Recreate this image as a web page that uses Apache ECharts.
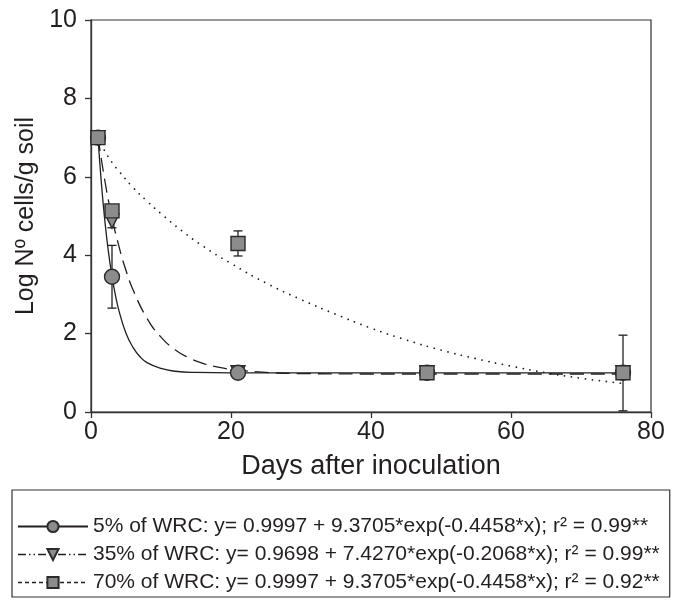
<!DOCTYPE html>
<html>
<head>
<meta charset="utf-8">
<script src="https://cdn.jsdelivr.net/npm/echarts@6/dist/echarts.min.js"></script>
<style>
  html, body { margin:0; padding:0; background:#fff; }
  #chart { width:679px; height:608px; }
</style>
</head>
<body>
<div id="chart"></div>
<script>
// measured points (days after inoculation, log cells/g soil)
const days = [1, 3, 21, 48, 76];
const wrc5 = [7.0, 3.45, 1.0, 1.0, 1.0];
const wrc35 = [7.0, 4.87, 1.0, 1.0, 1.0];
const wrc70 = [7.0, 5.13, 4.3, 1.0, 1.0];

// error bars: day, low, high
const err5Day = [3], err5Lo = [2.65], err5Hi = [4.25];
const err35Day = [3], err35Lo = [4.7], err35Hi = [5.0];
const err70Day = [21, 76], err70Lo = [3.98, 0.03], err70Hi = [4.62, 1.96];

// fitted curves
const fitX5 = [1, 1.5, 2, 2.5, 3, 3.5, 4, 5, 6, 7, 8, 10, 12, 15, 20, 30, 50, 76];
const fitY5 = [7.0, 5.8, 4.84, 4.07, 3.46, 2.97, 2.58, 2.01, 1.65, 1.41, 1.26, 1.11, 1.04, 1.01, 1.0, 1.0, 1.0, 1.0];
const fitX35 = [1, 2, 3, 4, 5, 6, 8, 10, 12, 14, 16, 18, 20, 25, 30, 40, 60, 76];
const fitY35 = [7.01, 5.88, 4.96, 4.22, 3.61, 3.12, 2.39, 1.91, 1.59, 1.38, 1.24, 1.15, 1.09, 1.01, 0.98, 0.97, 0.97, 0.97];
const fitX70 = [1, 2, 3, 4, 6, 8, 10, 13, 16, 20, 25, 30, 35, 40, 45, 50, 55, 60, 65, 70, 76];
const fitY70 = [7.0, 6.65, 6.37, 6.14, 5.73, 5.38, 5.06, 4.62, 4.23, 3.79, 3.29, 2.87, 2.49, 2.14, 1.84, 1.58, 1.36, 1.17, 1.0, 0.86, 0.73];

const xTicks = [0, 20, 40, 60, 80];
const yTicks = [0, 2, 4, 6, 8, 10];

const names = [
  '5% of WRC: y= 0.9997 + 9.3705*exp(-0.4458*x); r² = 0.99**',
  '35% of WRC: y= 0.9698 + 7.4270*exp(-0.2068*x); r² = 0.99**',
  '70% of WRC: y= 0.9997 + 9.3705*exp(-0.4458*x); r² = 0.92**'
];

const FONT = '"Liberation Sans", Arial, Helvetica, sans-serif';
const INK = '#231f20';
const FILL = '#8c8c8c';

const zip = (a, b) => a.map((v, i) => [v, b[i]]);
const errData = (d, lo, hi) => d.map((v, i) => [v, lo[i], hi[i]]);

function renderErr(params, api) {
  const x = api.value(0);
  const top = api.coord([x, api.value(2)]);
  const bot = api.coord([x, api.value(1)]);
  const w = 4.5;
  const st = { stroke: INK, lineWidth: 1.3 };
  return { type: 'group', children: [
    { type: 'line', shape: { x1: top[0], y1: top[1], x2: bot[0], y2: bot[1] }, style: st },
    { type: 'line', shape: { x1: top[0] - w, y1: top[1], x2: top[0] + w, y2: top[1] }, style: st },
    { type: 'line', shape: { x1: bot[0] - w, y1: bot[1], x2: bot[0] + w, y2: bot[1] }, style: st }
  ]};
}

const markerStyle = { color: FILL, borderColor: '#2b2b2b', borderWidth: 1.4, opacity: 1 };

function fitSeries(name, xs, ys, symbol, rotate, dash, width, cap) {
  return {
    name, type: 'line', data: zip(xs, ys),
    smooth: 0.5,
    symbol, symbolRotate: rotate, symbolSize: 13, showSymbol: false,
    itemStyle: markerStyle,
    lineStyle: { color: INK, width: width, type: dash, cap: cap || 'butt' },
    z: 2, silent: true, animation: false
  };
}

function pointSeries(ys, symbol, rotate, size, z) {
  return {
    type: 'scatter', data: zip(days, ys),
    symbol, symbolRotate: rotate, symbolSize: size,
    itemStyle: markerStyle, z, animation: false
  };
}

function errSeries(d, lo, hi) {
  return { type: 'custom', data: errData(d, lo, hi), renderItem: renderErr, z: 3, animation: false };
}

const chart = echarts.init(document.getElementById('chart'));
chart.setOption({
  backgroundColor: '#fff',
  textStyle: { fontFamily: FONT, color: INK },
  grid: { left: 91, top: 20, width: 560, height: 392, show: true, borderColor: '#333', borderWidth: 1.2, backgroundColor: 'transparent' },
  xAxis: {
    type: 'value', min: xTicks[0], max: xTicks[xTicks.length - 1], interval: 20,
    name: 'Days after inoculation', nameLocation: 'middle', nameGap: 41,
    nameTextStyle: { fontSize: 27, color: INK, fontFamily: FONT },
    axisLine: { lineStyle: { color: '#333', width: 1.3 } },
    axisTick: { show: true, length: 6, lineStyle: { color: '#333', width: 1.3 } },
    axisLabel: { fontSize: 25, color: INK, margin: 8, fontFamily: FONT },
    splitLine: { show: false }
  },
  yAxis: {
    type: 'value', min: yTicks[0], max: yTicks[yTicks.length - 1], interval: 2,
    name: 'Log Nº cells/g soil', nameLocation: 'middle', nameGap: 52, nameRotate: 90,
    nameTextStyle: { fontSize: 25, color: INK, fontFamily: FONT },
    axisLine: { lineStyle: { color: '#333', width: 1.3 } },
    axisTick: { show: true, length: 6, lineStyle: { color: '#333', width: 1.3 } },
    axisLabel: { fontSize: 25, color: INK, margin: 14, fontFamily: FONT },
    splitLine: { show: false }
  },
  legend: {
    data: [
      { name: names[0] },
      { name: names[1], lineStyle: { type: [8, 3, 1.5, 3, 1.5, 3], width: 1.3 } },
      { name: names[2], lineStyle: { type: [4, 3], width: 1.3, cap: 'butt' } }
    ],
    orient: 'vertical', left: 12, top: 490,
    padding: [26, 10, 4, 5],
    itemWidth: 70, itemHeight: 14, itemGap: 7,
    borderColor: '#333', borderWidth: 1.2,
    selectedMode: false,
    textStyle: { fontSize: 21, color: INK, fontFamily: FONT, lineHeight: 21 }
  },
  series: [
    fitSeries(names[0], fitX5, fitY5, 'circle', 0, 'solid', 1.3),
    fitSeries(names[1], fitX35, fitY35, 'triangle', 180, [14, 7], 1.3),
    fitSeries(names[2], fitX70, fitY70, 'rect', 0, [0.01, 7], 1.8, 'round'),
    errSeries(err5Day, err5Lo, err5Hi),
    errSeries(err35Day, err35Lo, err35Hi),
    errSeries(err70Day, err70Lo, err70Hi),
    pointSeries(wrc35, 'triangle', 180, 14, 4),
    pointSeries(wrc5, 'circle', 0, 15, 5),
    pointSeries(wrc70, 'rect', 0, 14, 6)
  ]
});
</script>
</body>
</html>
